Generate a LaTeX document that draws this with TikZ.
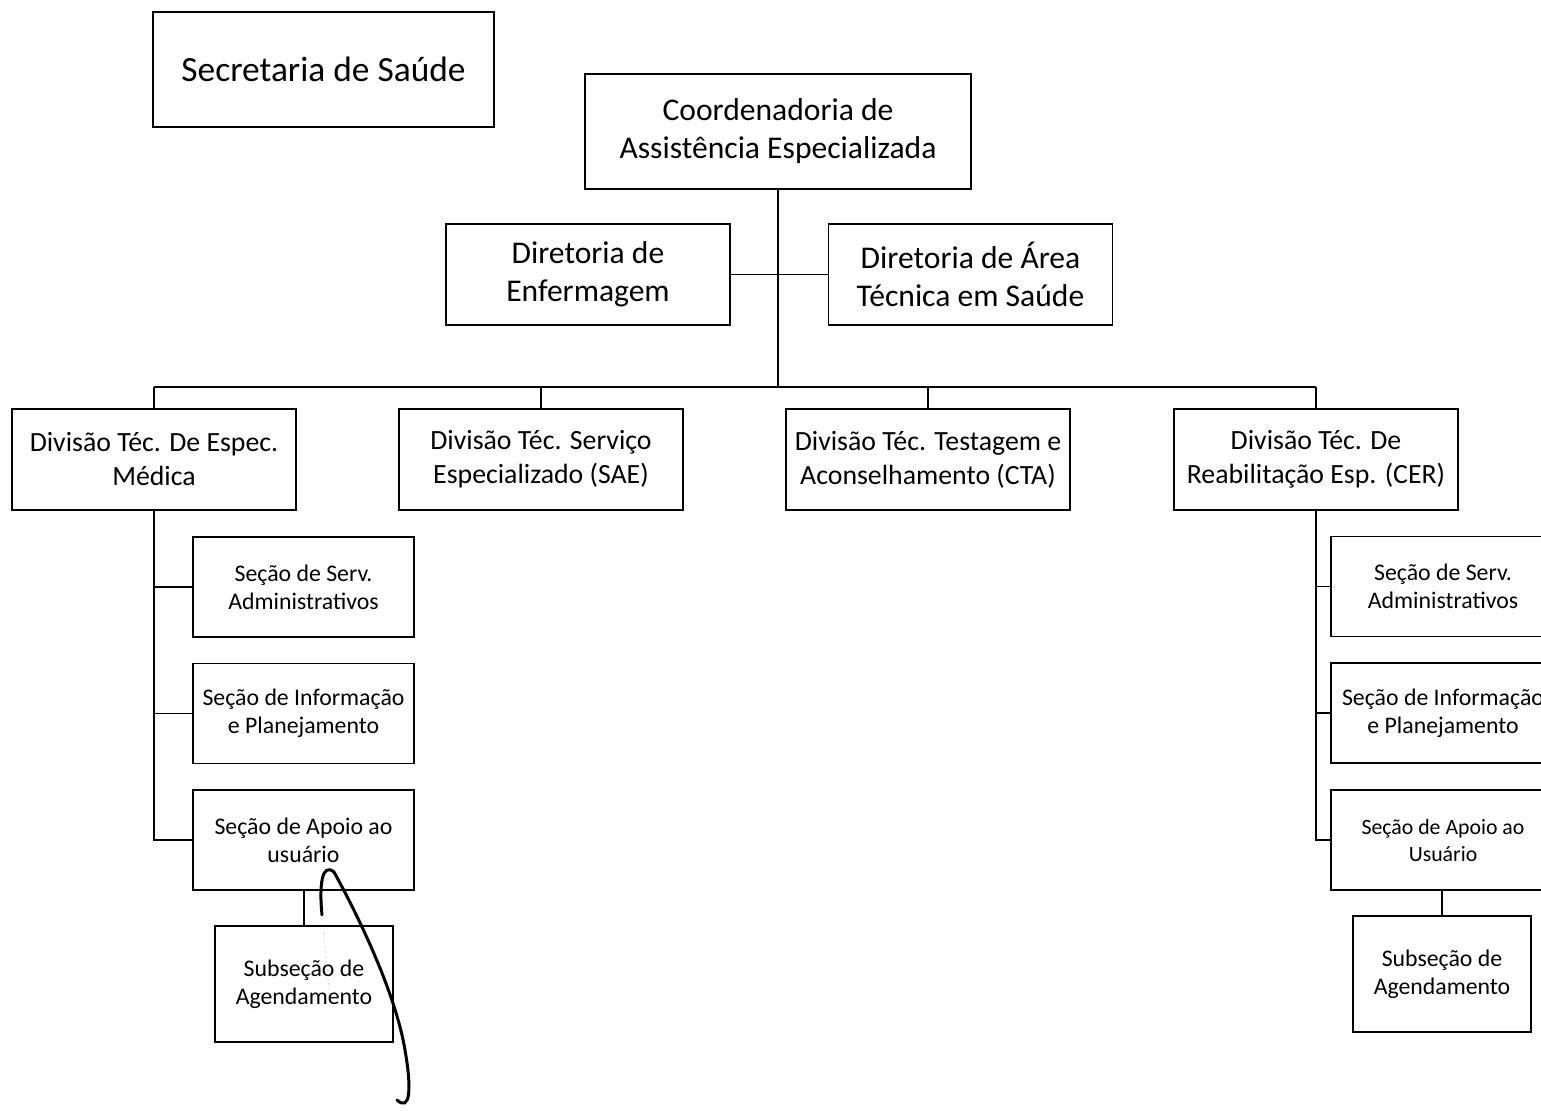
\documentclass[tikz,border=0pt]{standalone}
\usepackage{fontspec}
\setmainfont{Carlito}
\begin{document}
\begin{tikzpicture}[x=0.5pt,y=-0.5pt,
  box/.style={draw,line width=0.9pt,align=center,inner sep=0pt},
  ln/.style={line width=0.9pt},
  ftitle/.style={font=\fontsize{17.7}{21}\selectfont},
  fcoord/.style={font=\fontsize{15.8}{19}\selectfont},
  fdiv/.style={font=\fontsize{13.9}{17}\selectfont},
  fsec/.style={font=\fontsize{11.9}{14}\selectfont}]
\useasboundingbox (0,0) rectangle (1541,1110);
\fill[white] (0,0) rectangle (1541,1110);
\clip (0,0) rectangle (1541,1110);

\node[box,ftitle,minimum width=170.5pt,minimum height=57.5pt] (sec) at (323.5,69.5) {Secretaria de Saúde};
\node[box,fcoord,minimum width=193pt,minimum height=57.5pt] (coord) at (778,131.5) {Coordenadoria de\\Assistência Especializada};
\node[box,fcoord,minimum width=142pt,minimum height=50.5pt] (dirE) at (588,274.5) {Diretoria de\\Enfermagem};
\node[box,fcoord,minimum width=142pt,minimum height=50.5pt] (dirA) at (970.5,274.5) {Diretoria de Área\\Técnica em Saúde};

\node[box,fdiv,minimum width=142pt,minimum height=50.5pt] (div1) at (154,459.5) {Divisão Téc. De Espec.\\Médica};
\node[box,fdiv,minimum width=142pt,minimum height=50.5pt] (div2) at (541,459.5) {Divisão Téc. Serviço\\Especializado (SAE)};
\node[box,fdiv,minimum width=142pt,minimum height=50.5pt] (div3) at (928,459.5) {Divisão Téc. Testagem e\\Aconselhamento (CTA)};
\node[box,fdiv,minimum width=142pt,minimum height=50.5pt] (div4) at (1316,459.5) {Divisão Téc. De\\Reabilitação Esp. (CER)};

\node[box,fsec,minimum width=110.5pt,minimum height=50pt] (l1) at (303.5,587) {Seção de Serv.\\Administrativos};
\node[box,fsec,minimum width=110.5pt,minimum height=50pt] (l2) at (303.5,713.5) {Seção de Informação\\e Planejamento};
\node[box,fsec,minimum width=110.5pt,minimum height=50pt] (l3) at (303.5,840) {Seção de Apoio ao\\usuário};
\node[box,fsec,minimum width=89pt,minimum height=58pt] (l4) at (304,984) {Subseção de\\Agendamento};

\node[box,fsec,minimum width=112pt,minimum height=50pt] (r1) at (1443,586.5) {Seção de Serv.\\Administrativos};
\node[box,fsec,minimum width=112pt,minimum height=50pt] (r2) at (1443,713) {Seção de Informação\\e Planejamento};
\node[box,font=\fontsize{10.9}{13.5}\selectfont,minimum width=112pt,minimum height=50pt] (r3) at (1443,840) {Seção de Apoio ao\\Usuário};
\node[box,fsec,minimum width=89pt,minimum height=58pt] (r4) at (1442,974) {Subseção de\\Agendamento};

\coordinate (busL) at (154,387);
\coordinate (busR) at (1316,387);

\draw[ln] (coord.south) -- (coord.south |- busL);
\draw[ln] (dirE.east) -- (dirA.west);
\draw[ln] (busL) -- (busR);
\foreach \d in {div1,div2,div3,div4} \draw[ln] (\d.north) -- (\d.north |- busL);

\draw[ln] (div1.south) -- (div1.south |- l3.west) -- (l3.west);
\draw[ln] (div1.south |- l1.west) -- (l1.west);
\draw[ln] (div1.south |- l2.west) -- (l2.west);
\draw[ln] (l4.north) -- (l4.north |- l3.south);

\draw[ln] (div4.south) -- (div4.south |- r3.west) -- (r3.west);
\draw[ln] (div4.south |- r1.west) -- (r1.west);
\draw[ln] (div4.south |- r2.west) -- (r2.west);
\draw[ln] (r4.north) -- (r4.north |- r3.south);

% handwritten pen stroke
\draw[line width=1.5pt,line cap=round] (322,915) .. controls (319,885) and (322,862) .. (334,872)
  .. controls (355,910) and (395,990) .. (405,1050)
  .. controls (412,1090) and (410,1112) .. (397,1100);
\draw[gray,line width=0.3pt,dotted] (322,915) -- (330,1000);
\end{tikzpicture}
\end{document}
